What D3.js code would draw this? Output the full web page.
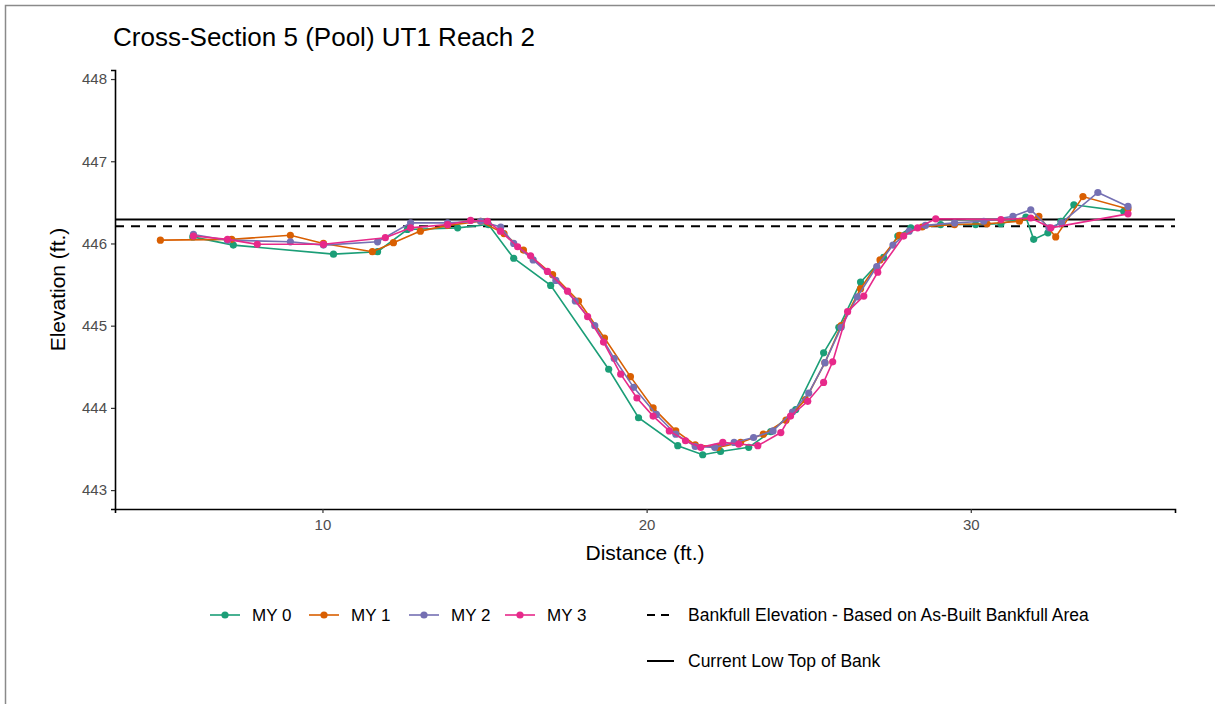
<!DOCTYPE html>
<html>
<head>
<meta charset="utf-8">
<script src="https://cdn.jsdelivr.net/npm/d3@7"></script>
<style>
  body { margin: 0; background: #fff; }
  text { font-family: "Liberation Sans", Arial, sans-serif; }
</style>
</head>
<body>
<svg width="1215" height="704"></svg>
<script>
// survey data
var my0X = [6.0, 7.25, 10.34, 11.7, 12.62, 14.17, 15.12, 15.9, 17.04, 18.83, 19.75, 20.96, 21.73, 22.28, 23.15, 23.83, 24.6, 25.46, 25.93, 26.6, 27.31, 27.75, 28.15, 29.07, 30.15, 30.93, 31.7, 31.94, 32.38, 32.78, 33.18, 34.72];
var my0Y = [446.08, 445.98, 445.87, 445.9, 446.17, 446.19, 446.23, 445.82, 445.49, 444.47, 443.88, 443.54, 443.43, 443.47, 443.52, 443.71, 443.98, 444.67, 444.98, 445.53, 445.83, 446.09, 446.19, 446.23, 446.23, 446.24, 446.32, 446.05, 446.13, 446.27, 446.47, 446.39];

var my1X = [5.0, 7.2, 9.01, 10.03, 11.54, 12.19, 13.02, 13.86, 14.88, 15.6, 16.2, 17.1, 17.9, 18.7, 19.5, 20.2, 20.9, 21.5, 22.2, 22.9, 23.6, 24.3, 24.9, 25.5, 26.0, 26.6, 27.2, 27.8, 28.5, 29.5, 30.5, 31.5, 32.1, 32.62, 33.46, 34.85];
var my1Y = [446.04, 446.05, 446.10, 446.0, 445.90, 446.01, 446.15, 446.22, 446.27, 446.12, 445.92, 445.62, 445.3, 444.85, 444.38, 444.0, 443.72, 443.55, 443.52, 443.58, 443.68, 443.85, 444.1, 444.55, 445.0, 445.45, 445.8, 446.1, 446.2, 446.23, 446.24, 446.27, 446.33, 446.08, 446.57, 446.42];

var my2X = [6.02, 7.07, 9.01, 10.03, 11.7, 12.72, 13.86, 14.88, 15.5, 15.9, 16.5, 17.2, 17.8, 18.4, 19.0, 19.6, 20.3, 20.9, 21.5, 22.1, 22.7, 23.3, 23.9, 24.5, 25.0, 25.5, 26.0, 26.5, 27.1, 27.6, 28.1, 28.6, 29.5, 30.4, 31.3, 31.85, 32.41, 32.8, 33.92, 34.85];
var my2Y = [446.11, 446.04, 446.02, 445.98, 446.02, 446.25, 446.25, 446.27, 446.2, 446.0, 445.8, 445.55, 445.3, 445.0, 444.6, 444.25, 443.92, 443.68, 443.53, 443.52, 443.58, 443.64, 443.72, 443.95, 444.18, 444.55, 444.98, 445.35, 445.72, 445.98, 446.15, 446.22, 446.25, 446.27, 446.33, 446.41, 446.19, 446.25, 446.62, 446.45];

var my3X = [6.02, 7.07, 7.99, 10.03, 11.94, 12.72, 13.86, 14.57, 15.09, 15.49, 16.02, 16.42, 16.94, 17.56, 18.18, 18.67, 19.2, 19.7, 20.2, 20.7, 21.2, 21.67, 22.35, 22.84, 23.43, 24.14, 24.44, 24.97, 25.46, 25.74, 26.2, 26.7, 27.13, 27.93, 28.36, 28.92, 30.93, 31.85, 32.47, 34.85];
var my3Y = [446.09, 446.05, 445.99, 445.99, 446.07, 446.19, 446.23, 446.28, 446.27, 446.15, 445.96, 445.85, 445.66, 445.42, 445.11, 444.8, 444.41, 444.12, 443.9, 443.72, 443.6, 443.52, 443.58, 443.56, 443.54, 443.7, 443.9, 444.08, 444.31, 444.56, 445.17, 445.36, 445.65, 446.09, 446.19, 446.3, 446.29, 446.31, 446.19, 446.36];

var seriesNames = ["MY 0", "MY 1", "MY 2", "MY 3"];
var seriesColors = ["#1b9e77", "#d95f02", "#7570b3", "#e7298a"];
var bankfullElev = 446.21;
var lowTopOfBank = 446.29;
var xTicks = [10, 20, 30];
var yTicks = [443, 444, 445, 446, 447, 448];

var surveys = [[my0X, my0Y], [my1X, my1Y], [my2X, my2Y], [my3X, my3Y]].map(function(s, i) {
  return {
    name: seriesNames[i],
    color: seriesColors[i],
    points: s[0].map(function(x, j) { return {x: x, y: s[1][j]}; })
  };
});

var svg = d3.select("svg"),
    margin = {top: 70, right: 40, bottom: 195, left: 115},
    width = +svg.attr("width"),
    height = +svg.attr("height");

// page frame (left and top edges visible)
svg.append("rect")
    .attr("x", 5.5).attr("y", 5.5)
    .attr("width", 1230).attr("height", 720)
    .attr("fill", "none")
    .attr("stroke", "#8a8a8a")
    .attr("stroke-width", 1.5);

var x = d3.scaleLinear()
    .domain([3.6, 36.3])
    .range([margin.left, width - margin.right]);

var y = d3.scaleLinear()
    .domain([442.77, 448.11])
    .range([height - margin.bottom, margin.top]);

// reference lines
svg.append("line")
    .attr("x1", x.range()[0]).attr("x2", x.range()[1])
    .attr("y1", y(bankfullElev)).attr("y2", y(bankfullElev))
    .attr("stroke", "#000").attr("stroke-width", 2)
    .attr("stroke-dasharray", "9,7");

svg.append("line")
    .attr("x1", x.range()[0]).attr("x2", x.range()[1])
    .attr("y1", y(lowTopOfBank)).attr("y2", y(lowTopOfBank))
    .attr("stroke", "#000").attr("stroke-width", 2);

var line = d3.line()
    .x(function(d) { return x(d.x); })
    .y(function(d) { return y(d.y); });

var g = svg.append("g")
  .selectAll("g")
  .data(surveys)
  .enter().append("g");

g.append("path")
    .attr("d", function(d) { return line(d.points); })
    .attr("fill", "none")
    .attr("stroke", function(d) { return d.color; })
    .attr("stroke-width", 1.6);

g.selectAll("circle")
  .data(function(d) { return d.points.map(function(p) { return {p: p, color: d.color}; }); })
  .enter().append("circle")
    .attr("cx", function(d) { return x(d.p.x); })
    .attr("cy", function(d) { return y(d.p.y); })
    .attr("r", 3.6)
    .attr("fill", function(d) { return d.color; });

// axes
var xAxis = svg.append("g")
    .attr("transform", "translate(0," + (height - margin.bottom) + ")")
    .call(d3.axisBottom(x).tickValues(xTicks).tickSize(4).tickPadding(6));

var yAxis = svg.append("g")
    .attr("transform", "translate(" + margin.left + ",0)")
    .call(d3.axisLeft(y).tickValues(yTicks).tickFormat(d3.format("d")).tickSize(4).tickPadding(4));

[xAxis, yAxis].forEach(function(a) {
  a.select(".domain").attr("stroke", "#000").attr("stroke-width", 1.6);
  a.selectAll(".tick line").attr("stroke", "#333").attr("stroke-width", 1.2);
  a.selectAll(".tick text")
      .attr("fill", "#4d4d4d")
      .style("font-size", "15px")
      .style("font-family", "Liberation Sans, Arial, sans-serif");
});

svg.append("text")
    .attr("x", 113).attr("y", 46)
    .style("font-size", "26px")
    .attr("fill", "#000")
    .text("Cross-Section 5 (Pool) UT1 Reach 2");

svg.append("text")
    .attr("x", (x.range()[0] + x.range()[1]) / 2).attr("y", 560)
    .attr("text-anchor", "middle")
    .style("font-size", "21px")
    .text("Distance (ft.)");

svg.append("text")
    .attr("transform", "translate(65," + ((y.range()[0] + y.range()[1]) / 2) + ") rotate(-90)")
    .attr("text-anchor", "middle")
    .style("font-size", "21px")
    .text("Elevation (ft.)");

// legend
var legendX = [210, 309, 409, 505];
var leg = svg.append("g")
  .selectAll("g")
  .data(surveys)
  .enter().append("g")
    .attr("transform", function(d, i) { return "translate(" + legendX[i] + ",615)"; });

leg.append("line")
    .attr("x1", 0).attr("x2", 30)
    .attr("stroke", function(d) { return d.color; })
    .attr("stroke-width", 1.6);

leg.append("circle")
    .attr("cx", 15).attr("r", 3.6)
    .attr("fill", function(d) { return d.color; });

leg.append("text")
    .attr("x", 42).attr("y", 6)
    .style("font-size", "17px")
    .text(function(d) { return d.name; });

var refLegend = [
  {label: "Bankfull Elevation - Based on As-Built Bankfull Area", dash: "8,6", y: 615},
  {label: "Current Low Top of Bank", dash: null, y: 661}
];

var rl = svg.append("g")
  .selectAll("g")
  .data(refLegend)
  .enter().append("g")
    .attr("transform", function(d) { return "translate(647," + d.y + ")"; });

rl.append("line")
    .attr("x1", 0).attr("x2", 27)
    .attr("stroke", "#000").attr("stroke-width", 2)
    .attr("stroke-dasharray", function(d) { return d.dash; });

rl.append("text")
    .attr("x", 41).attr("y", 6)
    .style("font-size", "17.5px")
    .text(function(d) { return d.label; });
</script>
</body>
</html>
